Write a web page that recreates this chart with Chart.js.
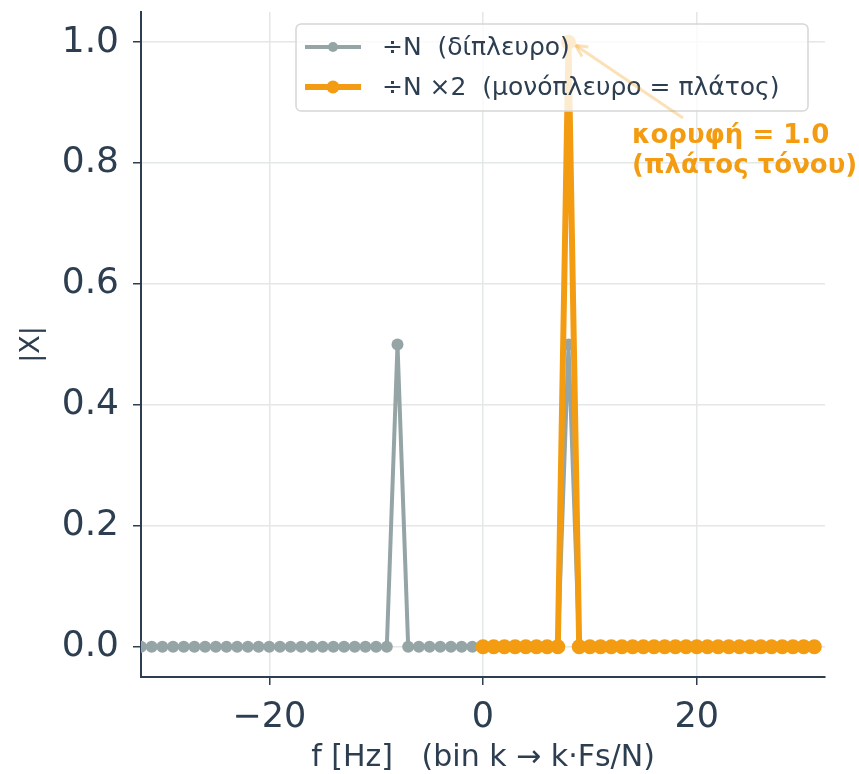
<!DOCTYPE html>
<html>
<head>
<meta charset="utf-8">
<script src="https://cdn.jsdelivr.net/npm/chart.js@4.4.1/dist/chart.umd.min.js"></script>
<style>
  html, body { margin: 0; padding: 0; background: #fff; }
  #wrap { width: 859px; height: 774px; }
</style>
</head>
<body>
<div id="wrap"><canvas id="spec" width="859" height="774"></canvas></div>
<script>
// bins (Hz), N = 64, Fs = 64
const twoSidedBins = [-32,-31,-30,-29,-28,-27,-26,-25,-24,-23,-22,-21,-20,-19,-18,-17,
  -16,-15,-14,-13,-12,-11,-10,-9,-8,-7,-6,-5,-4,-3,-2,-1,
  0,1,2,3,4,5,6,7,8,9,10,11,12,13,14,15,16,17,18,19,20,21,22,23,24,25,26,27,28,29,30,31];
const twoSidedMag = [0,0,0,0,0,0,0,0,0,0,0,0,0,0,0,0,
  0,0,0,0,0,0,0,0,0.5,0,0,0,0,0,0,0,
  0,0,0,0,0,0,0,0,0.5,0,0,0,0,0,0,0,0,0,0,0,0,0,0,0,0,0,0,0,0,0,0,0];
const oneSidedBins = [0,1,2,3,4,5,6,7,8,9,10,11,12,13,14,15,16,17,18,19,20,21,22,23,24,25,26,27,28,29,30,31];
const oneSidedMag = [0,0,0,0,0,0,0,0,1.0,0,0,0,0,0,0,0,0,0,0,0,0,0,0,0,0,0,0,0,0,0,0,0];

const xTicks = [-20, 0, 20];
const yTicks = [0, 0.2, 0.4, 0.6, 0.8, 1.0];
const labels = ['÷N  (δίπλευρο)', '÷N ×2  (μονόπλευρο = πλάτος)'];
const peak = { x: 8, y: 1.0, text: ['κορυφή = 1.0', '(πλάτος τόνου)'] };

const GREY = '#95a5a6';
const ORANGE = '#f39c12';
const INK = '#2c3e50';
const FONT = '"DejaVu Sans", sans-serif';

const toPts = (xs, ys) => xs.map((x, i) => ({ x: x, y: ys[i] }));

// legend + peak annotation, drawn on top of the plot
const overlay = {
    id: 'overlay',
    afterDraw(chart) {
        const ctx = chart.ctx;
        const xs = chart.scales.x, ys = chart.scales.y;
        ctx.save();

        // legend box
        const bx = 296, by = 24, bw = 512, bh = 87;
        ctx.beginPath();
        ctx.roundRect(bx, by, bw, bh, 5);
        ctx.fillStyle = 'rgba(255,255,255,0.8)';
        ctx.fill();
        ctx.strokeStyle = '#d5d8d8';
        ctx.lineWidth = 1.5;
        ctx.stroke();

        const rows = [
            { y: 47, color: GREY, lw: 4, r: 5, text: labels[0] },
            { y: 87, color: ORANGE, lw: 6, r: 6.5, text: labels[1] }
        ];
        rows.forEach(row => {
            ctx.beginPath();
            ctx.moveTo(305, row.y);
            ctx.lineTo(361, row.y);
            ctx.strokeStyle = row.color;
            ctx.lineWidth = row.lw;
            ctx.stroke();
            ctx.beginPath();
            ctx.arc(333, row.y, row.r, 0, Math.PI * 2);
            ctx.fillStyle = row.color;
            ctx.fill();
            ctx.fillStyle = INK;
            ctx.font = '25px ' + FONT;
            ctx.textBaseline = 'middle';
            ctx.textAlign = 'left';
            ctx.fillText(row.text, 382, row.y + 1);
        });

        // annotation arrow
        const px = xs.getPixelForValue(peak.x), py = ys.getPixelForValue(peak.y);
        const sx = 683, sy = 118;
        const tx = px + 7, ty = py + 3;
        ctx.strokeStyle = 'rgba(243,156,18,0.3)';
        ctx.lineWidth = 3;
        ctx.beginPath();
        ctx.moveTo(sx, sy);
        ctx.lineTo(tx, ty);
        ctx.stroke();
        const a = Math.atan2(ty - sy, tx - sx);
        ctx.beginPath();
        ctx.moveTo(tx, ty);
        ctx.lineTo(tx - 13 * Math.cos(a - 0.45), ty - 13 * Math.sin(a - 0.45));
        ctx.moveTo(tx, ty);
        ctx.lineTo(tx - 13 * Math.cos(a + 0.45), ty - 13 * Math.sin(a + 0.45));
        ctx.stroke();

        ctx.fillStyle = ORANGE;
        ctx.font = 'bold 26px ' + FONT;
        ctx.textAlign = 'left';
        ctx.textBaseline = 'middle';
        ctx.fillText(peak.text[0], 632, 136);
        ctx.fillText(peak.text[1], 632, 166);
        ctx.restore();
    }
};

new Chart(document.getElementById('spec'), {
    type: 'scatter',
    data: {
        datasets: [
            {
                label: labels[1],
                data: toPts(oneSidedBins, oneSidedMag),
                showLine: true,
                borderColor: ORANGE,
                backgroundColor: ORANGE,
                borderWidth: 6,
                pointRadius: 7.5,
                pointBorderWidth: 0,
                order: 1
            },
            {
                label: labels[0],
                data: toPts(twoSidedBins, twoSidedMag),
                showLine: true,
                borderColor: GREY,
                backgroundColor: GREY,
                borderWidth: 4,
                pointRadius: 6,
                pointBorderWidth: 0,
                order: 2
            }
        ]
    },
    options: {
        responsive: false,
        animation: false,
        layout: { padding: { top: 12, right: 34, left: 0, bottom: 0 } },
        plugins: {
            legend: { display: false },
            tooltip: { enabled: false }
        },
        scales: {
            x: {
                type: 'linear',
                min: -32,
                max: 32,
                afterBuildTicks: s => { s.ticks = xTicks.map(v => ({ value: v })); },
                afterFit: s => { s.height = 97; s.paddingLeft = 0; s.paddingRight = 0; },
                grid: { color: '#e3e7e7', lineWidth: 1.5, tickColor: INK, tickLength: 8 },
                border: { color: INK, width: 2 },
                ticks: {
                    color: INK,
                    font: { family: FONT, size: 35 },
                    padding: 12,
                    maxRotation: 0,
                    callback: v => (v < 0 ? '\u2212' + Math.abs(v) : String(v))
                },
                title: {
                    display: true,
                    text: 'f [Hz]   (bin k \u2192 k\u00b7Fs/N)',
                    color: INK,
                    font: { family: FONT, size: 30, lineHeight: 1.05 },
                    padding: { top: 0, bottom: 0 }
                }
            },
            y: {
                min: -0.05,
                max: 1.05,
                afterBuildTicks: s => { s.ticks = yTicks.map(v => ({ value: v })); },
                afterFit: s => { s.width = 141; s.paddingTop = 0; s.paddingBottom = 0; },
                grid: { color: '#e3e7e7', lineWidth: 1.5, tickColor: INK, tickLength: 8 },
                border: { color: INK, width: 2 },
                ticks: {
                    color: INK,
                    font: { family: FONT, size: 36 },
                    padding: 14,
                    callback: v => v.toFixed(1)
                },
                title: {
                    display: true,
                    text: '|X|',
                    color: INK,
                    font: { family: FONT, size: 27 },
                    padding: { top: 16 }
                }
            }
        }
    },
    plugins: [overlay]
});
</script>
</body>
</html>
